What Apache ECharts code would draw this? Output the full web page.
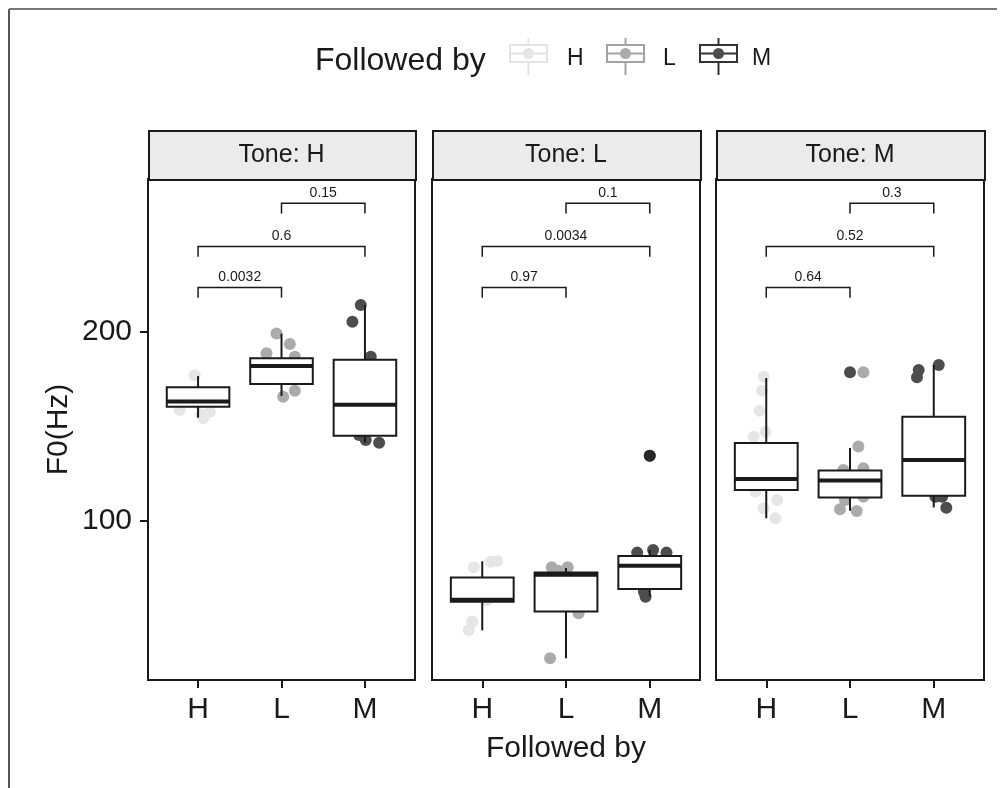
<!DOCTYPE html>
<html>
<head>
<meta charset="utf-8">
<title>F0 by tone</title>
<script src="https://cdn.jsdelivr.net/npm/echarts@6.0.0/dist/echarts.min.js"></script>
<style>
  html, body { margin: 0; padding: 0; background: #fff; }
  #chart { width: 1004px; height: 788px; }
</style>
</head>
<body>
<div id="chart"></div>
<script>
// categories
var tones = ['H', 'L', 'M'];
var followedBy = ['H', 'L', 'M'];
var groupColors = ['#e6e6e6', '#ababab', '#4d4d4d'];

// box stats per panel: [x, min, Q1, median, Q3, max]
var boxToneH = [[1, 154.5, 160.3, 163.1, 170.6, 176.5], [2, 166, 172.3, 181.8, 186, 199], [3, 141.3, 145, 161.4, 185.2, 214]];
var boxToneL = [[1, 42, 57.1, 58.2, 70, 78.5], [2, 27.2, 51.9, 71.4, 72.6, 75], [3, 60, 63.8, 76.2, 81.3, 84.5]];
var boxToneM = [[1, 101.3, 116.2, 122.1, 141.1, 175.5], [2, 105.3, 112.3, 121.2, 126.5, 138.5], [3, 107, 113.2, 132.1, 155, 182.4]];

// outliers per panel [x, value]
var outToneH = [];
var outToneL = [[3, 134.4]];
var outToneM = [[2, 178.5]];

// jittered observations [x, F0], one list per panel and follower
var ptsToneH = [
  [[0.96, 177], [0.78, 158.6], [1.04, 156], [1.14, 157.7], [1.06, 154.2], [0.9, 165], [1.1, 168], [1.0, 162]],
  [[1.94, 199.1], [2.1, 193.5], [1.82, 188.6], [2.16, 186.8], [2.02, 165.6], [2.16, 168.8], [1.92, 180], [2.08, 176]],
  [[2.95, 214.1], [2.85, 205.3], [3.07, 186.8], [2.93, 145.3], [3.01, 142.7], [3.17, 141.3], [2.88, 165], [3.1, 158]]
];
var ptsToneL = [
  [[1.18, 78.7], [1.1, 78.3], [0.9, 75.3], [1.06, 57.9], [0.88, 46.6], [0.84, 42.2], [0.95, 62], [1.1, 66]],
  [[1.83, 75.3], [2.02, 75.3], [1.91, 73.5], [2.15, 51], [1.81, 27.2], [1.93, 60]],
  [[2.85, 83.1], [3.04, 84.5], [3.2, 83.1], [2.93, 62.4], [2.95, 59.8], [3.0, 134.4], [2.9, 72], [3.06, 77]]
];
var ptsToneM = [
  [[0.97, 176.2], [0.95, 168.8], [0.92, 158.2], [0.99, 147.1], [0.85, 144.4], [0.87, 115.5], [1.13, 111], [0.97, 106.6], [1.11, 101.3], [1.05, 130], [1.15, 125]],
  [[2.16, 178.5], [2.1, 139.2], [1.92, 126.8], [2.16, 127.7], [1.94, 111], [2.16, 112.7], [1.88, 106], [2.08, 105.1], [1.98, 120]],
  [[3.06, 182.4], [2.82, 179.7], [2.8, 175.9], [3.02, 112.7], [3.1, 112.7], [3.15, 106.9], [2.92, 140], [3.08, 130]]
];

// comparisons: [from, to, bracket height]
var pairs = [[1, 2, 223.4], [1, 3, 245.1], [2, 3, 268]];
var pToneH = ['0.0032', '0.6', '0.15'];
var pToneL = ['0.97', '0.0034', '0.1'];
var pToneM = ['0.64', '0.52', '0.3'];

var yTicks = [100, 200];
var xTicks = [1, 2, 3];

var panels = [
  {box: boxToneH, out: outToneH, pts: ptsToneH, p: pToneH},
  {box: boxToneL, out: outToneL, pts: ptsToneL, p: pToneL},
  {box: boxToneM, out: outToneM, pts: ptsToneM, p: pToneM}
];

var FONT = 'Liberation Sans, Arial, Helvetica, sans-serif';
var INK = '#1a1a1a';
var gridLeft = [148, 432, 716];
var gridWidth = [267, 268, 268];
var gridTop = 179, gridHeight = 501;

var myChart = echarts.init(document.getElementById('chart'));

function renderBox(params, api) {
  var x = api.value(0);
  var q1 = api.coord([x - 0.375, api.value(2)]);
  var q3 = api.coord([x + 0.375, api.value(4)]);
  var top = api.coord([x, api.value(5)]);
  var bot = api.coord([x, api.value(1)]);
  var med = api.coord([x, api.value(3)]);
  var s = {stroke: INK, lineWidth: 2};
  return {
    type: 'group',
    children: [
      {type: 'line', shape: {x1: top[0], y1: top[1], x2: top[0], y2: q3[1]}, style: s},
      {type: 'line', shape: {x1: bot[0], y1: q1[1], x2: bot[0], y2: bot[1]}, style: s},
      {type: 'rect', shape: {x: q1[0], y: q3[1], width: q3[0] - q1[0], height: q1[1] - q3[1]},
        style: {fill: '#fff', stroke: INK, lineWidth: 2}},
      {type: 'line', shape: {x1: q1[0], y1: med[1], x2: q3[0], y2: med[1]}, style: {stroke: INK, lineWidth: 4}}
    ]
  };
}

function bracketRenderer(labels) {
  return function (params, api) {
    var x1 = api.value(0), x2 = api.value(1), y = api.value(2);
    var a = api.coord([x1, y]);
    var b = api.coord([x2, y]);
    var tip = api.coord([x1, y - 5.5]);
    return {
      type: 'group',
      children: [
        {type: 'polyline', shape: {points: [[a[0], tip[1]], a, b, [b[0], tip[1]]]},
          style: {stroke: INK, lineWidth: 1.5, fill: null}},
        {type: 'text', x: (a[0] + b[0]) / 2, y: a[1] - 3,
          style: {text: labels[params.dataIndex], font: '14px ' + FONT, fill: INK,
            align: 'center', verticalAlign: 'bottom'}}
      ]
    };
  };
}

var grids = [], xAxes = [], yAxes = [], series = [], graphics = [];

panels.forEach(function (pn, i) {
  grids.push({left: gridLeft[i], top: gridTop, width: gridWidth[i], height: gridHeight,
    show: true, borderColor: INK, borderWidth: 2, backgroundColor: '#fff'});

  xAxes.push({
    type: 'value', gridIndex: i, min: 0.4, max: 3.6,
    name: i === 1 ? 'Followed by' : '', nameLocation: 'middle', nameGap: 54,
    nameTextStyle: {fontSize: 30, color: INK, fontFamily: FONT},
    axisLine: {show: true, lineStyle: {color: INK, width: 2}},
    axisTick: {show: true, customValues: xTicks, length: 8, lineStyle: {color: INK, width: 2}},
    axisLabel: {show: true, customValues: xTicks, margin: 15, fontSize: 30, color: INK, fontFamily: FONT,
      formatter: function (v) { return followedBy[Math.round(v) - 1]; }},
    splitLine: {show: false}
  });

  yAxes.push({
    type: 'value', gridIndex: i, min: 15.7, max: 280.8,
    name: i === 0 ? 'F0(Hz)' : '', nameLocation: 'middle', nameGap: 74, nameRotate: 90,
    nameTextStyle: {fontSize: 30, color: INK, fontFamily: FONT},
    axisLine: {show: i === 0, lineStyle: {color: INK, width: 2}},
    axisTick: {show: i === 0, customValues: yTicks, length: 8, lineStyle: {color: INK, width: 2}},
    axisLabel: {show: i === 0, customValues: yTicks, margin: 16, fontSize: 30, color: INK, fontFamily: FONT},
    splitLine: {show: false}
  });

  pn.pts.forEach(function (grp, g) {
    series.push({
      type: 'scatter', xAxisIndex: i, yAxisIndex: i, z: 1,
      symbolSize: 12, data: grp,
      itemStyle: {color: groupColors[g], opacity: 1},
      silent: true
    });
  });

  series.push({
    type: 'custom', xAxisIndex: i, yAxisIndex: i, z: 2,
    renderItem: renderBox, data: pn.box,
    encode: {x: 0, y: [1, 2, 3, 4, 5]}, silent: true
  });

  series.push({
    type: 'scatter', xAxisIndex: i, yAxisIndex: i, z: 3,
    symbolSize: 12, data: pn.out,
    itemStyle: {color: '#1e1e1e'}, silent: true
  });

  series.push({
    type: 'custom', xAxisIndex: i, yAxisIndex: i, z: 3,
    renderItem: bracketRenderer(pn.p), data: pairs,
    encode: {x: [0, 1], y: 2}, silent: true
  });

  // facet strip
  graphics.push({
    type: 'rect', left: gridLeft[i], top: 130,
    shape: {width: gridWidth[i], height: 49},
    style: {fill: '#ebebeb', stroke: INK, lineWidth: 2}
  });
  graphics.push({
    type: 'text', x: gridLeft[i] + gridWidth[i] / 2, y: 155,
    style: {text: 'Tone: ' + tones[i], font: '25px ' + FONT, fill: INK, align: 'center', verticalAlign: 'middle'}
  });
});

// legend drawn as boxplot keys
var legendX = [510, 607, 700];
var legendLabelX = [567, 663, 752];
var legendStroke = ['#e3e3e3', '#a3a3a3', '#333333'];
graphics.push({
  type: 'text', x: 315, y: 61,
  style: {text: 'Followed by', font: '32px ' + FONT, fill: INK, align: 'left', verticalAlign: 'middle'}
});
followedBy.forEach(function (f, g) {
  var x = legendX[g], c = legendStroke[g], cx = x + 18.5;
  graphics.push({type: 'line', shape: {x1: cx, y1: 38, x2: cx, y2: 75}, style: {stroke: c, lineWidth: 2}});
  graphics.push({type: 'rect', shape: {x: x, y: 45, width: 37, height: 17}, style: {fill: '#fff', stroke: c, lineWidth: 2}});
  graphics.push({type: 'line', shape: {x1: x, y1: 53.5, x2: x + 37, y2: 53.5}, style: {stroke: c, lineWidth: 2}});
  graphics.push({type: 'circle', shape: {cx: cx, cy: 53.5, r: 5.5}, style: {fill: groupColors[g]}});
  graphics.push({
    type: 'text', x: legendLabelX[g], y: 59,
    style: {text: f, font: '23px ' + FONT, fill: INK, align: 'left', verticalAlign: 'middle'}
  });
});

// outer frame
graphics.push({type: 'line', shape: {x1: 9, y1: 9, x2: 9, y2: 788}, style: {stroke: '#555', lineWidth: 2}});
graphics.push({type: 'line', shape: {x1: 9, y1: 9, x2: 997, y2: 9}, style: {stroke: '#777', lineWidth: 2}});

myChart.setOption({
  backgroundColor: '#fff',
  animation: false,
  grid: grids,
  xAxis: xAxes,
  yAxis: yAxes,
  series: series,
  graphic: graphics
});
</script>
</body>
</html>
